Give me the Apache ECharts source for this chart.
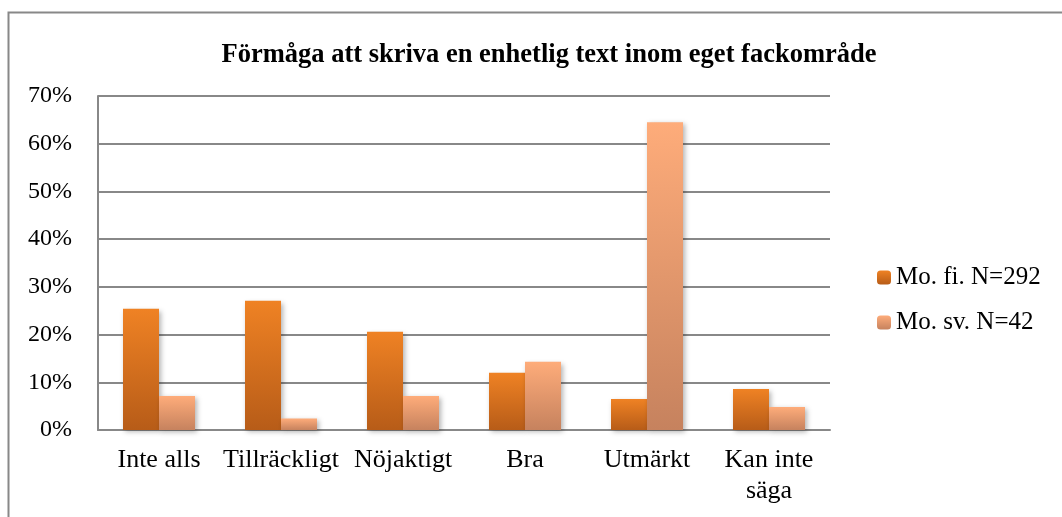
<!DOCTYPE html>
<html>
<head>
<meta charset="utf-8">
<script src="https://cdn.jsdelivr.net/npm/echarts@6/dist/echarts.min.js"></script>
<style>
  html, body { margin: 0; padding: 0; background: #fff; }
  #chart { width: 1062px; height: 517px; }
</style>
</head>
<body>
<div id="chart"></div>
<script>
// kategorier och värden (andel i %)
const categories = ['Inte alls', 'Tillräckligt', 'Nöjaktigt', 'Bra', 'Utmärkt', 'Kan inte\nsäga'];
const seriesNames = ['Mo. fi. N=292', 'Mo. sv. N=42'];
const fiValues = [25.4, 27.1, 20.6, 12.0, 6.5, 8.6];
const svValues = [7.1, 2.4, 7.1, 14.3, 64.5, 4.8];
const yTicks = [0, 10, 20, 30, 40, 50, 60, 70];

const serif = '"Liberation Serif", "DejaVu Serif", serif';

function grad(top, bottom) {
    return new echarts.graphic.LinearGradient(0, 0, 0, 1, [
        { offset: 0, color: top },
        { offset: 1, color: bottom }
    ]);
}

let myChart = echarts.init(document.getElementById('chart'));
myChart.setOption({
    animation: false,
    title: {
        text: 'Förmåga att skriva en enhetlig text inom eget fackområde',
        left: 544,
        textAlign: 'center',
        top: 37,
        textStyle: { fontFamily: serif, fontSize: 26.5, fontWeight: 'bold', color: '#000' }
    },
    // ramen runt diagrammet
    graphic: [{
        type: 'rect',
        shape: { x: 8.5, y: 12.5, width: 1100, height: 600 },
        style: { fill: 'none', stroke: '#888', lineWidth: 2 },
        silent: true
    }],
    legend: {
        orient: 'vertical',
        left: 872,
        top: 260,
        itemWidth: 14,
        itemHeight: 14,
        itemGap: 20,
        data: seriesNames,
        textStyle: { fontFamily: serif, fontSize: 25, color: '#000' }
    },
    grid: {
        left: 98,
        right: 232,
        top: 96,
        bottom: 87
    },
    xAxis: {
        type: 'category',
        data: categories,
        axisLine: { lineStyle: { color: '#888', width: 2 } },
        axisTick: { show: false },
        axisLabel: {
            interval: 0,
            margin: 15,
            fontFamily: serif,
            fontSize: 26,
            lineHeight: 31,
            color: '#000'
        }
    },
    yAxis: {
        type: 'value',
        min: yTicks[0],
        max: yTicks[yTicks.length - 1],
        interval: 10,
        axisLine: { show: true, lineStyle: { color: '#888', width: 2 } },
        axisTick: { show: false },
        splitLine: { lineStyle: { color: '#888', width: 2 } },
        axisLabel: {
            margin: 26,
            formatter: '{value}%',
            fontFamily: serif,
            fontSize: 24,
            color: '#000'
        }
    },
    series: [
        {
            name: seriesNames[0],
            type: 'bar',
            barWidth: 36,
            barGap: '0%',
            itemStyle: {
                color: grad('#EF8224', '#B75C18'),
                shadowColor: 'rgba(0,0,0,0.3)',
                shadowBlur: 5,
                shadowOffsetX: 2,
                shadowOffsetY: 2
            },
            data: fiValues
        },
        {
            name: seriesNames[1],
            type: 'bar',
            barWidth: 36,
            barGap: '0%',
            itemStyle: {
                color: grad('#FEAC7A', '#C6825E'),
                shadowColor: 'rgba(0,0,0,0.3)',
                shadowBlur: 5,
                shadowOffsetX: 2,
                shadowOffsetY: 2
            },
            data: svValues
        }
    ]
});
</script>
</body>
</html>
